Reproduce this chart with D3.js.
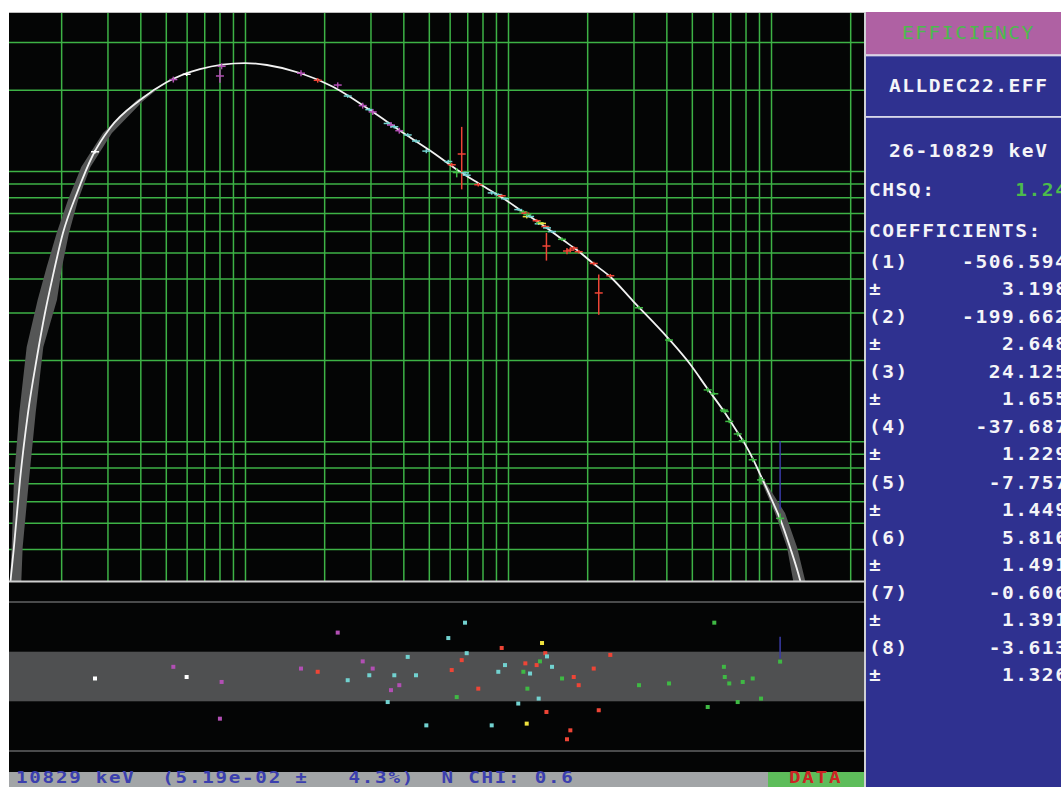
<!DOCTYPE html>
<html lang="en">
<head>
<meta charset="utf-8">
<script src="https://d3js.org/d3.v7.min.js"></script>
<style>
  body { margin: 0; background: #fff; }
  text { font-family: "DejaVu Sans Mono", monospace; font-weight: bold; }
</style>
</head>
<body>
<script>
// fitted efficiency curve (energy keV, efficiency)
const curveE = [12.77, 12.85, 13.23, 13.95, 14.96, 16.19, 17.36, 18.46, 20.32, 22.97, 26.42, 30.67, 39.9, 50.5, 67.4,
  100, 121.2, 161.8, 216.0, 298.8, 398.9, 505.1, 656.9, 768.9, 948.9, 1160.5, 1382.6, 1618.6, 1829.7, 2105,
  2442, 2988, 4059, 4920, 5711, 6570, 7489, 7963, 8543, 9082, 9656, 10177, 10819, 11809, 12894, 13237];
const curveEff = [0.0287, 0.0307, 0.0406, 0.0719, 0.1273, 0.2051, 0.2983, 0.3953, 0.5896, 0.8289, 1.146, 1.443, 1.831, 2.135, 2.384,
  2.509, 2.467, 2.305, 2.051, 1.681, 1.386, 1.191, 0.994, 0.903, 0.798, 0.6975, 0.6223, 0.5556, 0.5101, 0.4556,
  0.4072, 0.3304, 0.2411, 0.1932, 0.1575, 0.1305, 0.1073, 0.0977, 0.086, 0.0757, 0.0666, 0.0594, 0.0518, 0.0406, 0.0307, 0.0277];

// grey uncertainty band of the fit (outline points), low and high energy ends
const bandLowE = [12.72, 12.97, 13.23, 13.86, 14.79, 16.28, 17.62, 19.23, 21.23, 23.85, 28.85, 38.86, 49.6,
  40.95, 31.2, 25.85, 23.2, 21.42, 20.15, 19.28, 17.11, 16.0, 15.09, 14.28, 14.07];
const bandLowEff = [0.0282, 0.0406, 0.0719, 0.1273, 0.2233, 0.3332, 0.4414, 0.5896, 0.781, 1.035, 1.382, 1.831, 2.116,
  1.815, 1.382, 1.035, 0.781, 0.5896, 0.4414, 0.3332, 0.2233, 0.1273, 0.0719, 0.0406, 0.0282];
const bandHighE = [8848, 9082, 10356, 11503, 12124, 12338, 13946, 13468, 12562, 11304, 9325];
const bandHighEff = [0.0796, 0.0731, 0.0543, 0.0406, 0.0307, 0.0277, 0.0277, 0.0307, 0.0406, 0.0543, 0.0731];

// calibration points
const pointE = [26.9, 53.4, 60.0, 80.3, 81.5, 163.3, 189.0, 225.2, 245.8, 280.3, 296.9, 305.9, 348.8, 359.0, 369.6, 386.1,
  415.6, 446.9, 489.2, 593, 610.9, 638.3, 666.8, 686.4, 696.6, 770.9, 867, 918.6, 946.2, 974, 1094, 1144,
  1164, 1178, 1185, 1213, 1285, 1308, 1323, 1347, 1386, 1400, 1407, 1470, 1605, 1676, 1726, 1778,
  1857, 2118, 2213, 2449, 3149, 4095, 5745, 6086, 6620, 6670, 6938, 7470, 7806, 8519, 9162, 10829];
const pointEff = [1.178, 2.18, 2.28, 2.247, 2.44, 2.30, 2.166, 2.08, 1.894, 1.746, 1.687, 1.654, 1.50, 1.48, 1.458, 1.41,
  1.36, 1.291, 1.185, 1.084, 1.055, 0.987, 1.156, 0.985, 0.965, 0.89, 0.83, 0.818, 0.81, 0.79, 0.72, 0.706,
  0.698, 0.678, 0.690, 0.679, 0.655, 0.638, 0.643, 0.64, 0.623, 0.528, 0.616, 0.597, 0.559, 0.506, 0.510, 0.519,
  0.503, 0.455, 0.354, 0.41, 0.312, 0.237, 0.155, 0.150, 0.1305, 0.129, 0.1185, 0.1065, 0.1005, 0.0855, 0.072, 0.0519];
const pointErr = [1.5, 2.5, 1.5, 5.6, 2.5, 2.5, 2.0, 2.3, 1.5, 2.5, 1.5, 2.5, 1.5, 2.5, 1.5, 2.5,
  1.5, 1.5, 1.8, 1.5, 1.5, 4.0, 26, 1.0, 1.0, 1.5, 1.5, 1.0, 1.0, 1.0, 1.0, 1.5,
  1.5, 1.5, 1.5, 1.0, 1.5, 1.0, 1.5, 1.0, 1.5, 11.7, 1.0, 1.0, 1.5, 2.7, 2.0, 1.5,
  1.5, 1.5, 17, 1.5, 1.5, 1.5, 2.0, 1.0, 1.5, 1.5, 1.5, 2.0, 2.0, 2.0, 2.5, 4.3];
const pointChi = [-0.08, 0.39, -0.02, -1.70, -0.22, 0.32, 0.19, 1.77, -0.15, 0.61, 0.05, 0.32, -1.03, -0.55, 0.05, -0.35,
  0.79, 0.05, -1.97, 1.55, 0.26, -0.83, 0.66, 2.17, 0.94, -0.49, -1.97, 0.19, 1.15, 0.46, -1.09, 0.19,
  0.53, -1.90, -0.49, 0.12, 0.46, -0.89, 0.61, 1.35, 0.94, -1.43, 0.81, 0.39, -0.08, -2.53, -2.17, -0.02,
  -0.35, 0.32, -1.36, 0.87, -0.35, -0.28, -1.23, 2.17, 0.39, -0.02, -0.28, -1.03, -0.22, -0.08, -0.89, 0.60];
const pointSrc = ["W", "M", "W", "M", "M", "M", "R", "M", "C", "M", "C", "M", "C", "M", "C", "M",
  "C", "C", "C", "C", "R", "G", "R", "C", "C", "R", "C", "C", "R", "C", "C", "G",
  "R", "Y", "G", "C", "R", "C", "G", "Y", "R", "R", "C", "C", "G", "R", "R", "R",
  "R", "R", "R", "R", "G", "G", "G", "G", "G", "G", "G", "G", "G", "G", "G", "G"];
const srcColor = { W: "#ffffff", M: "#b24fb4", R: "#ee4536", C: "#72d2d0", G: "#3fb944", Y: "#efe23e" };

// selected point cursor
const cursorE = 10829;
const cursorEff = [0.0561, 0.1];
const cursorChi = [0.73, 1.6];

// residual guide levels (sigma)
const bandChi = [-1, 1];
const limitChi = [-3, 3];

// side panel + status bar text
const title = "EFFICIENCY";
const fileName = "ALLDEC22.EFF";
const rangeText = "26-10829 keV";
const chsq = "1.24";
const coefLabels = ["(1)", "(2)", "(3)", "(4)", "(5)", "(6)", "(7)", "(8)"];
const coefValues = ["-506.594", "-199.662", "24.125", "-37.687", "-7.757", "5.816", "-0.606", "-3.613"];
const coefErrors = ["3.198", "2.648", "1.655", "1.229", "1.449", "1.491", "1.391", "1.326"];
const statusParts = ["10829 keV", "(5.19e-02 \u00b1", "4.3%)", "N CHI: 0.6"];
const statusCols = [0, 11, 25, 32];

const W = 1061, H = 787;
const pL = 9, pR = 864, pT = 12, sep = 581, resBottom = 772;

const svg = d3.select("body").append("svg")
  .attr("width", W).attr("height", H);

const x = d3.scaleLog().domain([12.67, 22570]).range([pL, pR]);
const y = d3.scaleLog().domain([0.0307, 3.875]).range([580, pT]);
const r = d3.scaleLinear().domain([-3.85, 3.85]).range([resBottom, sep]);

const defs = svg.append("defs");
defs.append("clipPath").attr("id", "clipTop")
  .append("rect").attr("x", pL).attr("y", pT).attr("width", pR - pL).attr("height", sep - pT);
defs.append("clipPath").attr("id", "clipRes")
  .append("rect").attr("x", pL).attr("y", sep).attr("width", pR - pL).attr("height", resBottom - sep);

// ---------- top plot ----------
svg.append("rect").attr("x", pL).attr("y", pT).attr("width", pR - pL).attr("height", sep - pT).attr("fill", "#040505");

const gTop = svg.append("g").attr("clip-path", "url(#clipTop)");

// grid lines via axes
const gx = gTop.append("g").attr("transform", `translate(0,${sep})`)
  .call(d3.axisBottom(x).tickValues(x.ticks()).tickSize(-(sep - pT)).tickFormat(""));
const gy = gTop.append("g").attr("transform", `translate(${pL},0)`)
  .call(d3.axisLeft(y).tickValues(y.ticks()).tickSize(-(pR - pL)).tickFormat(""));
[gx, gy].forEach(g => {
  g.select(".domain").remove();
  g.selectAll("line").attr("stroke", "#3db246").attr("stroke-width", 1.5);
});

// uncertainty band
const outline = d3.line().x(d => x(d[0])).y(d => y(d[1])).curve(d3.curveLinearClosed);
gTop.append("path").attr("d", outline(bandLowE.map((e, i) => [e, bandLowEff[i]]))).attr("fill", "#555656");
gTop.append("path").attr("d", outline(bandHighE.map((e, i) => [e, bandHighEff[i]]))).attr("fill", "#555656");

// fitted curve
const curveLine = d3.line().x(d => x(d[0])).y(d => y(d[1])).curve(d3.curveMonotoneX);
gTop.append("path")
  .attr("d", curveLine(curveE.map((e, i) => [e, curveEff[i]])))
  .attr("fill", "none").attr("stroke", "#f2f2f2").attr("stroke-width", 1.8);

// data crosses
const pts = pointE.map((e, i) => ({ e, eff: pointEff[i], err: pointErr[i] / 100, chi: pointChi[i], src: pointSrc[i] }));
const cross = gTop.selectAll("g.pt").data(pts).join("g").attr("class", "pt")
  .attr("stroke", d => srcColor[d.src]).attr("stroke-width", 1.5);
cross.append("line")
  .attr("x1", d => x(d.e) - 4).attr("x2", d => x(d.e) + 4)
  .attr("y1", d => y(d.eff)).attr("y2", d => y(d.eff));
cross.append("line")
  .attr("x1", d => x(d.e)).attr("x2", d => x(d.e))
  .attr("y1", d => y(d.eff * (1 + d.err))).attr("y2", d => y(d.eff * (1 - d.err)));

gTop.append("line")
  .attr("x1", x(cursorE)).attr("x2", x(cursorE))
  .attr("y1", y(cursorEff[1])).attr("y2", y(cursorEff[0]))
  .attr("stroke", "#3a3ca8").attr("stroke-width", 1.5);

svg.append("line").attr("x1", pL).attr("x2", pR).attr("y1", pT + 0.5).attr("y2", pT + 0.5)
  .attr("stroke", "#bdbdbd").attr("stroke-width", 1);

// ---------- residual panel ----------
svg.append("rect").attr("x", pL).attr("y", sep).attr("width", pR - pL).attr("height", resBottom - sep).attr("fill", "#040505");
const gRes = svg.append("g").attr("clip-path", "url(#clipRes)");
gRes.append("rect")
  .attr("x", pL).attr("width", pR - pL)
  .attr("y", r(bandChi[1])).attr("height", r(bandChi[0]) - r(bandChi[1]))
  .attr("fill", "#4f5051");
gRes.selectAll("line.lim").data(limitChi).join("line").attr("class", "lim")
  .attr("x1", pL).attr("x2", pR)
  .attr("y1", d => r(d)).attr("y2", d => r(d))
  .attr("stroke", "#4a4b4c").attr("stroke-width", 2);
gRes.append("line")
  .attr("x1", x(cursorE)).attr("x2", x(cursorE))
  .attr("y1", r(cursorChi[1])).attr("y2", r(cursorChi[0]))
  .attr("stroke", "#3a3ca8").attr("stroke-width", 1.5);
gRes.selectAll("rect.res").data(pts).join("rect").attr("class", "res")
  .attr("x", d => x(d.e) - 2).attr("y", d => r(d.chi) - 2)
  .attr("width", 4).attr("height", 4)
  .attr("fill", d => srcColor[d.src]);

// separator between the panels
svg.append("rect").attr("x", pL).attr("y", sep - 0.5).attr("width", pR - pL).attr("height", 2).attr("fill", "#cfd0d0");

// ---------- text helper (wide blocky monospace) ----------
const cell = 13.3;
function mono(str, x0, base, color, opts) {
  const o = Object.assign({ size: 17, sx: 1.15, weight: "bold" }, opts || {});
  const spacing = cell / o.sx - 0.6021 * o.size;
  svg.append("text")
    .attr("transform", `translate(${x0},${base}) scale(${o.sx},1)`)
    .attr("fill", color)
    .style("font-size", o.size + "px")
    .style("letter-spacing", spacing + "px")
    .style("font-weight", o.weight)
    .text(str);
}

// ---------- status bar ----------
svg.append("rect").attr("x", pL).attr("y", resBottom).attr("width", pR - pL + 1).attr("height", H - resBottom).attr("fill", "#a2a5a7");
svg.append("rect").attr("x", 768).attr("y", resBottom).attr("width", pR - 768).attr("height", H - resBottom).attr("fill", "#5dbd5a");
const sOpts = { size: 15, sx: 1.28 };
statusParts.forEach((s, i) => mono(s, 16 + cell * statusCols[i], 783.4, "#3b3fae", sOpts));
mono("DATA", 789, 783.4, "#cc2424", sOpts);

// ---------- side panel ----------
const px0 = 866;
svg.append("rect").attr("x", pR).attr("y", pT).attr("width", 2).attr("height", H - pT).attr("fill", "#cfd0d4");
svg.append("rect").attr("x", px0).attr("y", pT).attr("width", W - px0).attr("height", 42.5).attr("fill", "#af61a3");
svg.append("rect").attr("x", px0).attr("y", 54.5).attr("width", W - px0).attr("height", 1.8).attr("fill", "#d8d4e6");
svg.append("rect").attr("x", px0).attr("y", 56.3).attr("width", W - px0).attr("height", 59.7).attr("fill", "#2f3190");
svg.append("rect").attr("x", px0).attr("y", 116).attr("width", W - px0).attr("height", 1.8).attr("fill", "#d8d8ea");
svg.append("rect").attr("x", px0).attr("y", 117.8).attr("width", W - px0).attr("height", H - 117.8).attr("fill", "#2f3190");

const valEnd = 1068.5;
mono(title, 902, 39.3, "#4cbb4c", { weight: "normal" });
mono(fileName, 889, 92.3, "#f4f4f8");
mono(rangeText, 889, 156.8, "#f4f4f8");
mono("CHSQ:", 869, 196, "#f4f4f8");
mono(chsq, valEnd - chsq.length * cell, 196, "#4cbb4c");
mono("COEFFICIENTS:", 869, 237.3, "#f4f4f8");
coefLabels.forEach((lab, i) => {
  const base = 267.7 + 55.25 * i;
  mono(lab, 869, base, "#f4f4f8");
  mono(coefValues[i], valEnd - coefValues[i].length * cell, base, "#f4f4f8");
  mono("\u00b1", 869, base + 27, "#f4f4f8");
  mono(coefErrors[i], valEnd - coefErrors[i].length * cell, base + 27, "#f4f4f8");
});
</script>
</body>
</html>
